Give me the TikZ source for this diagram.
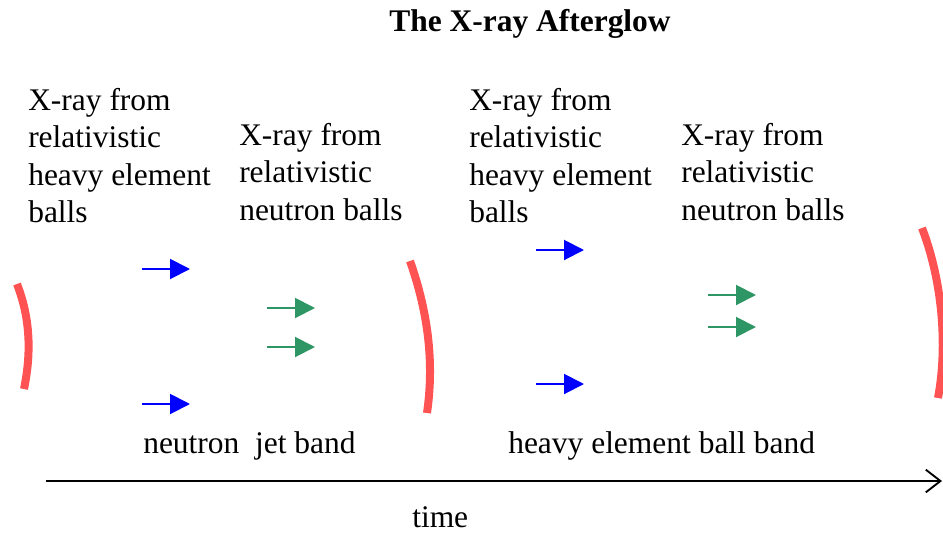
\documentclass[tikz,border=0pt]{standalone}
\usepackage{fontspec}
\setmainfont{Liberation Serif}
\usetikzlibrary{arrows.meta}
\definecolor{arcred}{RGB}{255,82,82}
\definecolor{jetblue}{RGB}{0,0,255}
\definecolor{balgreen}{RGB}{46,150,100}
\begin{document}
\begin{tikzpicture}[x=0.75pt,y=-0.75pt,
  lbl/.style={anchor=north west,inner sep=0pt,align=left,font=\fontsize{23.6}{28.1}\selectfont},
  shell/.style={draw=arcred,line width=6pt},
  flow/.style={line width=1.5pt,-{Triangle[length=15pt,width=15pt]}},
  bluearrow/.style={flow,draw=jetblue,fill=jetblue},
  greenarrow/.style={flow,draw=balgreen,fill=balgreen}]
\useasboundingbox (0,0) rectangle (943,533);
\clip (0,0) rectangle (943,533);
% title
\node[anchor=base,inner sep=0pt,font=\bfseries\fontsize{23.6}{28.1}\selectfont] (title) at (530,31) {The X-ray Afterglow};
% labels
\node[lbl] (t1) at (28,88) {X-ray from\\relativistic\\heavy element\\balls};
\node[lbl] (t2) at (239,123) {X-ray from\\relativistic\\neutron balls};
\node[lbl] (t3) at (469,88) {X-ray from\\relativistic\\heavy element\\balls};
\node[lbl] (t4) at (681,123) {X-ray from\\relativistic\\neutron balls};
\node[lbl,anchor=base west] (b1) at (143,453) {neutron\ \ jet band};
\node[lbl,anchor=base west] (b2) at (508,453) {heavy element ball band};
\node[lbl,anchor=base west] (tm) at (412,527) {time};
% shells
\draw[shell] (17,284) .. controls (31,320) and (31,355) .. (24,389);
\draw[shell] (410,261) .. controls (429,315) and (434,365) .. (427,413);
\draw[shell] (922,228) .. controls (942,280) and (948,345) .. (938,398);
% arrows
\coordinate (a1) at (142,269); \coordinate (a1e) at (190,269);
\coordinate (a2) at (142,404); \coordinate (a2e) at (190,404);
\coordinate (a3) at (267,308); \coordinate (a3e) at (315,308);
\coordinate (a4) at (267,347); \coordinate (a4e) at (315,347);
\coordinate (a5) at (536,250); \coordinate (a5e) at (584,250);
\coordinate (a6) at (536,384); \coordinate (a6e) at (584,384);
\coordinate (a7) at (708,295); \coordinate (a7e) at (756,295);
\coordinate (a8) at (708,327); \coordinate (a8e) at (756,327);
\draw[bluearrow] (a1) -- (a1e);
\draw[bluearrow] (a2) -- (a2e);
\draw[greenarrow] (a3) -- (a3e);
\draw[greenarrow] (a4) -- (a4e);
\draw[bluearrow] (a5) -- (a5e);
\draw[bluearrow] (a6) -- (a6e);
\draw[greenarrow] (a7) -- (a7e);
\draw[greenarrow] (a8) -- (a8e);
% time axis
\coordinate (ax0) at (46,481); \coordinate (ax1) at (942,481);
\draw[line width=1.4pt,-{Straight Barb[length=11pt,width=17pt,line width=1.4pt]}] (ax0) -- (ax1);
\end{tikzpicture}
\end{document}
